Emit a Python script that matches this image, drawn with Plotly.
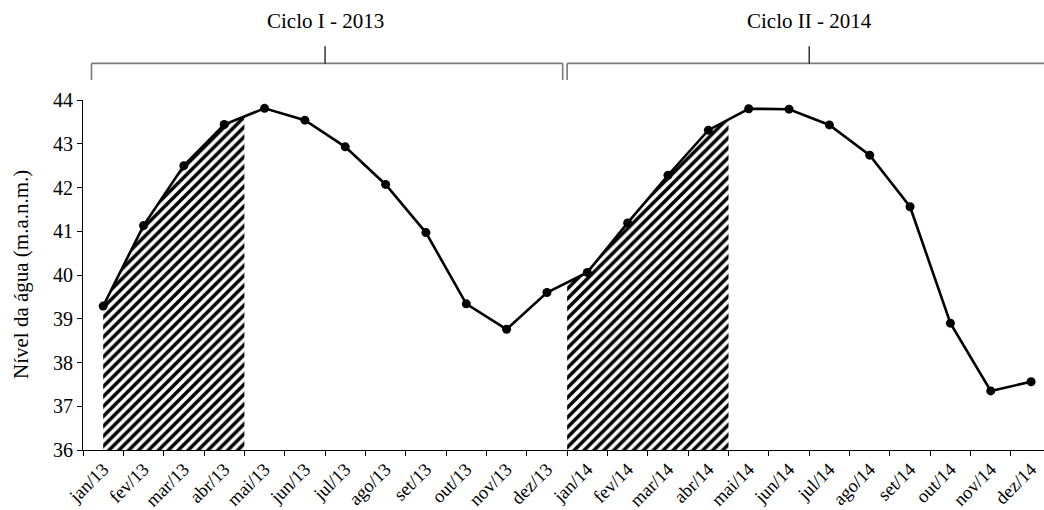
import numpy as np
import plotly.graph_objects as go

# Monthly water level, two hydrological cycles
months = ["jan/13", "fev/13", "mar/13", "abr/13", "mai/13", "jun/13",
          "jul/13", "ago/13", "set/13", "out/13", "nov/13", "dez/13",
          "jan/14", "fev/14", "mar/14", "abr/14", "mai/14", "jun/14",
          "jul/14", "ago/14", "set/14", "out/14", "nov/14", "dez/14"]
nivel = [39.29, 41.13, 42.50, 43.44, 43.81, 43.54,
         42.93, 42.07, 40.97, 39.34, 38.76, 39.60,
         40.06, 41.19, 42.28, 43.31, 43.80, 43.79,
         43.43, 42.74, 41.56, 38.90, 37.35, 37.56]
y_ticks = [36, 37, 38, 39, 40, 41, 42, 43, 44]
cycle_labels = ["Ciclo I - 2013", "Ciclo II - 2014"]

# Hatched (rising-water) spans, in month-index units
hatch_spans = [(0.0, 3.5), (11.5, 15.5)]

pos = np.arange(len(months))
nivel_arr = np.array(nivel)

FONT = "Liberation Serif, Times New Roman, serif"

fig = go.Figure()

for x0, x1 in hatch_spans:
    inner = pos[(pos > x0) & (pos < x1)]
    hx = np.concatenate([[x0], inner, [x1]])
    hy = np.interp(hx, pos, nivel_arr)
    fig.add_trace(go.Scatter(
        x=hx, y=hy, mode="lines", line=dict(width=0),
        fill="tozeroy", fillcolor="white",
        fillpattern=dict(shape="/", fgcolor="black", bgcolor="white",
                         size=7, solidity=0.5, fgopacity=1),
        hoverinfo="skip", showlegend=False))

fig.add_trace(go.Scatter(
    x=pos, y=nivel, mode="lines+markers",
    line=dict(color="black", width=2.6),
    marker=dict(color="black", size=9),
    showlegend=False))

boundaries = list(np.arange(-0.5, len(months) + 0.5, 1.0))

fig.update_layout(
    width=1044, height=510,
    margin=dict(l=83, r=0, t=100, b=60),
    paper_bgcolor="white", plot_bgcolor="white",
    font=dict(family=FONT, size=19, color="black"),
    xaxis=dict(
        range=[-0.5, 23.32], tickmode="array", tickvals=pos, ticktext=months,
        tickangle=-45, ticks="", showgrid=False, zeroline=False,
        automargin=False,
        showline=True, linecolor="black", linewidth=1.2,
        tickfont=dict(family=FONT, size=18.5, color="black"),
        minor=dict(tickmode="array", tickvals=boundaries, ticks="outside",
                   ticklen=5, tickcolor="black", tickwidth=1, showgrid=False),
    ),
    yaxis=dict(
        range=[36, 44], tickmode="array", tickvals=y_ticks,
        ticks="outside", ticklen=5, tickcolor="black", tickwidth=1,
        automargin=False,
        showgrid=False, zeroline=False, showline=True, linecolor="black",
        linewidth=1.2, tickfont=dict(family=FONT, size=20, color="black"),
    ),
)

# Axis title
fig.add_annotation(
    text="Nível da água (m.a.n.m.)", textangle=-90,
    xref="paper", yref="paper", x=0, y=0.5, xshift=-62,
    xanchor="center", yanchor="middle", showarrow=False,
    font=dict(family=FONT, size=21, color="black"))

# Cycle brackets above the plot
brackets = [(-0.29, 11.39, 5.5), (11.5, 23.6, 17.5)]
y_bar, y_leg, y_tick, y_lab = 1.1046, 1.057, 1.1537, 1.2257
for (b0, b1, bc), lab in zip(brackets, cycle_labels):
    gray = dict(color="#7a7a7a", width=1.6)
    fig.add_shape(type="line", xref="x", yref="paper", x0=b0, x1=b1,
                  y0=y_bar, y1=y_bar, line=gray)
    fig.add_shape(type="line", xref="x", yref="paper", x0=b0, x1=b0,
                  y0=y_leg, y1=y_bar, line=gray)
    fig.add_shape(type="line", xref="x", yref="paper", x0=b1, x1=b1,
                  y0=y_leg, y1=y_bar, line=gray)
    fig.add_shape(type="line", xref="x", yref="paper", x0=bc, x1=bc,
                  y0=y_bar, y1=y_tick, line=dict(color="black", width=1.2))
    fig.add_annotation(text=lab, xref="x", yref="paper", x=bc, y=y_lab,
                       xanchor="center", yanchor="middle", showarrow=False,
                       font=dict(family=FONT, size=21, color="black"))

fig.write_html("out.html")
